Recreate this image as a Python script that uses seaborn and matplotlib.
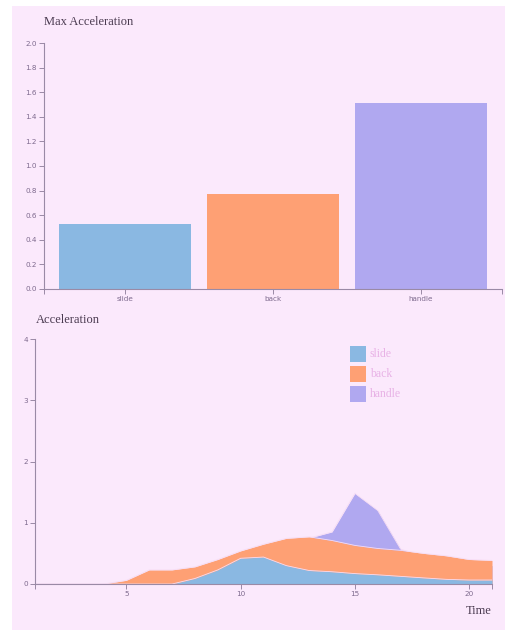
import numpy as np
import pandas as pd
import matplotlib
matplotlib.use("Agg")
import matplotlib.pyplot as plt
import seaborn as sns
from matplotlib.patches import Rectangle

# ---- data ----
parts = ["slide", "back", "handle"]
max_acc = [0.53, 0.77, 1.51]

time = list(range(1, 22))
slide = [0, 0, 0, 0, 0, 0, 0, 0.09, 0.23, 0.42, 0.44, 0.30, 0.22, 0.20,
         0.17, 0.15, 0.125, 0.10, 0.076, 0.065, 0.065]
back = [0, 0, 0, 0, 0.06, 0.23, 0.23, 0.28, 0.40, 0.54, 0.65, 0.745, 0.77, 0.71,
        0.63, 0.58, 0.55, 0.50, 0.46, 0.40, 0.385]
handle = [0, 0, 0, 0, 0, 0, 0, 0, 0, 0.2, 0.4, 0.6, 0.75, 0.85,
          1.48, 1.20, 0.57, 0.45, 0.40, 0.35, 0.30]

colors = {"slide": "#8ab8e2", "back": "#fea074", "handle": "#b0a8f0"}
bg = "#fbe9fc"
axcol = "#9a8aa6"
tickcol = "#7e6a8e"

sns.set_theme(style="ticks")
plt.rcParams["font.family"] = ["DejaVu Sans"]

fig = plt.figure(figsize=(5.06, 6.30), dpi=100, facecolor="white")
fig.patches.append(Rectangle((12 / 506, 0), 1, 1 - 6 / 630, transform=fig.transFigure,
                             facecolor=bg, edgecolor="none", zorder=-10))

def style_axes(ax):
    ax.set_facecolor("none")
    for s in ["top", "right"]:
        ax.spines[s].set_visible(False)
    for s in ["left", "bottom"]:
        ax.spines[s].set_color(axcol)
        ax.spines[s].set_linewidth(0.8)
        ax.spines[s].set_zorder(10)
    ax.tick_params(axis="both", which="both", colors=axcol, labelcolor=tickcol,
                   labelsize=5.2, length=3.5, width=0.7, pad=1.5, direction="out")
    ax.grid(False)

# ---- top: max acceleration bars ----
ax1 = fig.add_axes([44 / 506, 1 - 289 / 630, (502 - 44) / 506, (289 - 43) / 630])
df = pd.DataFrame({"part": parts, "max": max_acc})
sns.barplot(data=df, x="part", y="max", hue="part", palette=colors, legend=False,
            width=0.89, saturation=1, edgecolor="none", ax=ax1)
style_axes(ax1)
ax1.set_xlim(-0.547, 2.547)
ax1.set_ylim(0, 2.0)
ax1.set_yticks(np.arange(0, 2.01, 0.2))
ax1.set_yticklabels([f"{v:.1f}" for v in np.arange(0, 2.01, 0.2)])
ax1.set_xticks([-0.547, 2.547], minor=True)
ax1.set_xlabel("")
ax1.set_ylabel("")
fig.text(44 / 506, 1 - 22 / 630, "Max Acceleration", family="Liberation Serif",
         fontsize=9, color="#4a3a50", va="center", ha="left")

# ---- bottom: acceleration over time ----
ax2 = fig.add_axes([35 / 506, 1 - 584 / 630, (492 - 35) / 506, (584 - 339) / 630])
style_axes(ax2)
z = 1
for name, vals in [("handle", handle), ("back", back), ("slide", slide)]:
    ax2.fill_between(time, 0, vals, color=colors[name], linewidth=0, zorder=z)
    ax2.plot(time, vals, color="#f6dcf4", linewidth=0.6, zorder=z + 0.5)
    z += 1
ax2.set_xlim(1, 21)
ax2.set_ylim(0, 4)
ax2.set_xticks([5, 10, 15, 20])
ax2.set_yticks([0, 1, 2, 3, 4])
ax2.set_xticks([1, 21], minor=True)

fig.text(36 / 506, 1 - 320 / 630, "Acceleration", family="Liberation Serif",
         fontsize=9, color="#4a3a50", va="center", ha="left")
fig.text(492 / 506, 1 - 611 / 630, "Time", family="Liberation Serif",
         fontsize=9, color="#4a3a50", va="center", ha="right")

# legend
for i, name in enumerate(parts):
    y = 354 + i * 20
    fig.patches.append(Rectangle((350 / 506, 1 - (y + 8) / 630), 16 / 506, 16 / 630,
                                 transform=fig.transFigure, facecolor=colors[name],
                                 edgecolor="none"))
    fig.text(370 / 506, 1 - y / 630, name, family="Liberation Serif", fontsize=8.5,
             color="#e8b2e6", va="center", ha="left")

fig.savefig("out.png", dpi=100, facecolor="white")
